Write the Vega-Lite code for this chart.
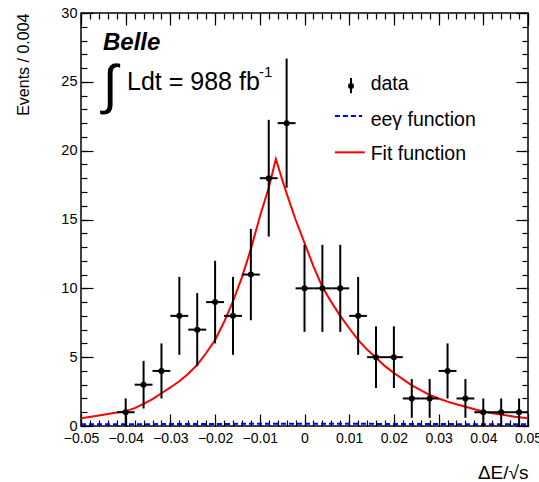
{
  "$schema": "https://vega.github.io/schema/vega-lite/v6.json",
  "width": 447,
  "height": 413,
  "autosize": {"type": "none"},
  "padding": {"left": 81, "top": 13, "right": 11, "bottom": 56},
  "background": "white",
  "config": {
    "view": {"stroke": "black", "strokeWidth": 1.5},
    "font": "Liberation Sans",
    "axis": {"domain": false, "grid": false, "labelFont": "Liberation Sans", "labelColor": "black", "tickColor": "black", "tickWidth": 1.2, "titleColor": "black", "titleFont": "Liberation Sans", "titleFontWeight": "normal"}
  },
  "datasets": {
    "hist": [
      {"x": -0.040, "n": 1, "lo": 0, "hi": 2, "xlo": -0.042, "xhi": -0.038},
      {"x": -0.036, "n": 3, "lo": 1.27, "hi": 4.73, "xlo": -0.038, "xhi": -0.034},
      {"x": -0.032, "n": 4, "lo": 2, "hi": 6, "xlo": -0.034, "xhi": -0.030},
      {"x": -0.028, "n": 8, "lo": 5.17, "hi": 10.83, "xlo": -0.030, "xhi": -0.026},
      {"x": -0.024, "n": 7, "lo": 4.35, "hi": 9.65, "xlo": -0.026, "xhi": -0.022},
      {"x": -0.020, "n": 9, "lo": 6, "hi": 12, "xlo": -0.022, "xhi": -0.018},
      {"x": -0.016, "n": 8, "lo": 5.17, "hi": 10.83, "xlo": -0.018, "xhi": -0.014},
      {"x": -0.012, "n": 11, "lo": 7.68, "hi": 14.32, "xlo": -0.014, "xhi": -0.010},
      {"x": -0.008, "n": 18, "lo": 13.76, "hi": 22.24, "xlo": -0.010, "xhi": -0.006},
      {"x": -0.004, "n": 22, "lo": 17.31, "hi": 26.69, "xlo": -0.006, "xhi": -0.002},
      {"x": 0.000, "n": 10, "lo": 6.84, "hi": 13.16, "xlo": -0.002, "xhi": 0.002},
      {"x": 0.004, "n": 10, "lo": 6.84, "hi": 13.16, "xlo": 0.002, "xhi": 0.006},
      {"x": 0.008, "n": 10, "lo": 6.84, "hi": 13.16, "xlo": 0.006, "xhi": 0.010},
      {"x": 0.012, "n": 8, "lo": 5.17, "hi": 10.83, "xlo": 0.010, "xhi": 0.014},
      {"x": 0.016, "n": 5, "lo": 2.76, "hi": 7.24, "xlo": 0.014, "xhi": 0.018},
      {"x": 0.020, "n": 5, "lo": 2.76, "hi": 7.24, "xlo": 0.018, "xhi": 0.022},
      {"x": 0.024, "n": 2, "lo": 0.59, "hi": 3.41, "xlo": 0.022, "xhi": 0.026},
      {"x": 0.028, "n": 2, "lo": 0.59, "hi": 3.41, "xlo": 0.026, "xhi": 0.030},
      {"x": 0.032, "n": 4, "lo": 2, "hi": 6, "xlo": 0.030, "xhi": 0.034},
      {"x": 0.036, "n": 2, "lo": 0.59, "hi": 3.41, "xlo": 0.034, "xhi": 0.038},
      {"x": 0.040, "n": 1, "lo": 0, "hi": 2, "xlo": 0.038, "xhi": 0.042},
      {"x": 0.044, "n": 1, "lo": 0, "hi": 2, "xlo": 0.042, "xhi": 0.046},
      {"x": 0.048, "n": 1, "lo": 0, "hi": 2, "xlo": 0.046, "xhi": 0.050}
    ],
    "fit": [
      {"x": -0.050, "y": 0.56}, {"x": -0.046, "y": 0.76}, {"x": -0.043, "y": 0.93},
      {"x": -0.040, "y": 1.08}, {"x": -0.038, "y": 1.3}, {"x": -0.036, "y": 1.6},
      {"x": -0.034, "y": 1.95}, {"x": -0.032, "y": 2.38}, {"x": -0.030, "y": 2.8},
      {"x": -0.028, "y": 3.25}, {"x": -0.026, "y": 3.8}, {"x": -0.024, "y": 4.45},
      {"x": -0.022, "y": 5.3}, {"x": -0.020, "y": 6.25}, {"x": -0.018, "y": 7.55},
      {"x": -0.016, "y": 9.05}, {"x": -0.014, "y": 10.8}, {"x": -0.012, "y": 12.85},
      {"x": -0.010, "y": 15.2}, {"x": -0.008, "y": 17.3}, {"x": -0.0064, "y": 19.4},
      {"x": -0.005, "y": 17.9}, {"x": -0.004, "y": 16.9}, {"x": -0.002, "y": 15.0},
      {"x": 0.000, "y": 13.3}, {"x": 0.002, "y": 11.6}, {"x": 0.004, "y": 10.1},
      {"x": 0.006, "y": 9.0}, {"x": 0.008, "y": 8.0}, {"x": 0.010, "y": 7.1},
      {"x": 0.012, "y": 6.25}, {"x": 0.014, "y": 5.55}, {"x": 0.016, "y": 4.95},
      {"x": 0.018, "y": 4.35}, {"x": 0.020, "y": 3.85}, {"x": 0.022, "y": 3.4},
      {"x": 0.024, "y": 2.95}, {"x": 0.026, "y": 2.6}, {"x": 0.028, "y": 2.25},
      {"x": 0.030, "y": 2.0}, {"x": 0.032, "y": 1.77}, {"x": 0.034, "y": 1.58},
      {"x": 0.036, "y": 1.4}, {"x": 0.038, "y": 1.22}, {"x": 0.040, "y": 1.05},
      {"x": 0.042, "y": 0.93}, {"x": 0.044, "y": 0.83}, {"x": 0.047, "y": 0.68},
      {"x": 0.050, "y": 0.56}
    ],
    "eeg": [
      {"x": -0.050, "y": 0.12}, {"x": -0.030, "y": 0.14}, {"x": -0.010, "y": 0.16},
      {"x": 0.000, "y": 0.16}, {"x": 0.010, "y": 0.16}, {"x": 0.030, "y": 0.14},
      {"x": 0.050, "y": 0.12}
    ],
    "belle": [{"x": -0.04508, "y": 27.3, "text": "Belle"}],
    "integral": [{"x": -0.0435, "y": 24.6, "text": "∫"}],
    "ldt": [{"x": -0.0397, "y": 24.41, "text": "Ldt = 988 fb"}],
    "sup": [{"x": -0.0102, "y": 25.35, "text": "-1"}],
    "legtext": [
      {"x": 0.0148, "y": 24.41, "text": "data"},
      {"x": 0.0148, "y": 21.79, "text": "eeγ function"},
      {"x": 0.0148, "y": 19.32, "text": "Fit function"}
    ],
    "legdata": [{"x": 0.0104, "y": 24.7, "lo": 24.17, "hi": 25.28}],
    "legblue": [{"x": 0.0068, "x2": 0.0129, "y": 22.52}],
    "legred": [{"x": 0.0068, "x2": 0.0135, "y": 19.88}]
  },
  "resolve": {"axis": {"x": "independent", "y": "independent"}},
  "layer": [
    {
      "data": {"name": "fit"},
      "mark": {"type": "line", "color": "#ff0000", "strokeWidth": 2, "clip": true},
      "encoding": {
        "x": {"field": "x", "type": "quantitative", "scale": {"domain": [-0.05, 0.05], "nice": false, "zero": false},
          "axis": {"orient": "bottom", "ticks": false, "labels": true, "format": ".2~f", "labelFontSize": 14, "labelPadding": 5,
            "values": [-0.05, -0.04, -0.03, -0.02, -0.01, 0, 0.01, 0.02, 0.03, 0.04, 0.05], "labelFlush": false, "labelOverlap": false,
            "title": "ΔE/√s", "titleFontSize": 19, "titleX": 447, "titleY": 52, "titleAlign": "right", "titleBaseline": "alphabetic", "titleAnchor": "end"}},
        "y": {"field": "y", "type": "quantitative", "scale": {"domain": [0, 30], "nice": false, "zero": false},
          "axis": {"orient": "left", "ticks": false, "labels": true, "labelFontSize": 14.5, "labelPadding": 4,
            "values": [0, 5, 10, 15, 20, 25, 30], "labelFlush": false, "labelOverlap": false,
            "title": "Events / 0.004", "titleFontSize": 16, "titleX": -53, "titleY": 0, "titleAngle": -90, "titleAlign": "right", "titleBaseline": "alphabetic", "titleAnchor": "end"}}
      }
    },
    {
      "data": {"name": "eeg"},
      "mark": {"type": "line", "color": "#0000ff", "strokeWidth": 2, "strokeDash": [5, 3]},
      "encoding": {
        "x": {"field": "x", "type": "quantitative", "scale": {"domain": [-0.05, 0.05], "nice": false, "zero": false},
          "axis": {"orient": "bottom", "labels": false, "title": null, "tickSize": -12, "values": [-0.05, -0.04, -0.03, -0.02, -0.01, 0, 0.01, 0.02, 0.03, 0.04, 0.05]}},
        "y": {"field": "y", "type": "quantitative", "scale": {"domain": [0, 30], "nice": false, "zero": false},
          "axis": {"orient": "left", "labels": false, "title": null, "tickSize": -12, "values": [0, 5, 10, 15, 20, 25, 30]}}
      }
    },
    {
      "data": {"name": "hist"},
      "mark": {"type": "rule", "color": "black", "strokeWidth": 2},
      "encoding": {
        "x": {"field": "x", "type": "quantitative", "scale": {"domain": [-0.05, 0.05], "nice": false, "zero": false},
          "axis": {"orient": "bottom", "labels": false, "title": null, "tickSize": -6,
            "values": [-0.05, -0.048, -0.046, -0.044, -0.042, -0.04, -0.038, -0.036, -0.034, -0.032, -0.03, -0.028, -0.026, -0.024, -0.022, -0.02, -0.018, -0.016, -0.014, -0.012, -0.01, -0.008, -0.006, -0.004, -0.002, 0, 0.002, 0.004, 0.006, 0.008, 0.01, 0.012, 0.014, 0.016, 0.018, 0.02, 0.022, 0.024, 0.026, 0.028, 0.03, 0.032, 0.034, 0.036, 0.038, 0.04, 0.042, 0.044, 0.046, 0.048, 0.05]}},
        "y": {"field": "lo", "type": "quantitative", "scale": {"domain": [0, 30], "nice": false, "zero": false},
          "axis": {"orient": "left", "labels": false, "title": null, "tickSize": -6,
            "values": [0, 1, 2, 3, 4, 5, 6, 7, 8, 9, 10, 11, 12, 13, 14, 15, 16, 17, 18, 19, 20, 21, 22, 23, 24, 25, 26, 27, 28, 29, 30]}},
        "y2": {"field": "hi"}
      }
    },
    {
      "data": {"name": "hist"},
      "mark": {"type": "rule", "color": "black", "strokeWidth": 2},
      "encoding": {
        "x": {"field": "xlo", "type": "quantitative", "scale": {"domain": [-0.05, 0.05], "nice": false, "zero": false},
          "axis": {"orient": "top", "labels": false, "title": null, "tickSize": -12, "values": [-0.05, -0.04, -0.03, -0.02, -0.01, 0, 0.01, 0.02, 0.03, 0.04, 0.05]}},
        "x2": {"field": "xhi"},
        "y": {"field": "n", "type": "quantitative", "scale": {"domain": [0, 30], "nice": false, "zero": false},
          "axis": {"orient": "right", "labels": false, "title": null, "tickSize": -12, "values": [0, 5, 10, 15, 20, 25, 30]}}
      }
    },
    {
      "data": {"name": "hist"},
      "mark": {"type": "point", "filled": true, "color": "black", "size": 36, "opacity": 1},
      "encoding": {
        "x": {"field": "x", "type": "quantitative", "scale": {"domain": [-0.05, 0.05], "nice": false, "zero": false},
          "axis": {"orient": "top", "labels": false, "title": null, "tickSize": -6,
            "values": [-0.05, -0.048, -0.046, -0.044, -0.042, -0.04, -0.038, -0.036, -0.034, -0.032, -0.03, -0.028, -0.026, -0.024, -0.022, -0.02, -0.018, -0.016, -0.014, -0.012, -0.01, -0.008, -0.006, -0.004, -0.002, 0, 0.002, 0.004, 0.006, 0.008, 0.01, 0.012, 0.014, 0.016, 0.018, 0.02, 0.022, 0.024, 0.026, 0.028, 0.03, 0.032, 0.034, 0.036, 0.038, 0.04, 0.042, 0.044, 0.046, 0.048, 0.05]}},
        "y": {"field": "n", "type": "quantitative", "scale": {"domain": [0, 30], "nice": false, "zero": false},
          "axis": {"orient": "right", "labels": false, "title": null, "tickSize": -6,
            "values": [0, 1, 2, 3, 4, 5, 6, 7, 8, 9, 10, 11, 12, 13, 14, 15, 16, 17, 18, 19, 20, 21, 22, 23, 24, 25, 26, 27, 28, 29, 30]}}
      }
    },
    {
      "data": {"name": "belle"},
      "mark": {"type": "text", "font": "Liberation Sans", "fontWeight": "bold", "fontStyle": "italic", "fontSize": 24, "align": "left", "baseline": "alphabetic", "color": "black"},
      "encoding": {
        "x": {"field": "x", "type": "quantitative", "axis": null},
        "y": {"field": "y", "type": "quantitative", "axis": null},
        "text": {"field": "text"}
      }
    },
    {
      "data": {"name": "integral"},
      "mark": {"type": "text", "font": "Liberation Sans", "fontSize": 54, "align": "center", "baseline": "middle", "color": "black"},
      "encoding": {
        "x": {"field": "x", "type": "quantitative", "axis": null},
        "y": {"field": "y", "type": "quantitative", "axis": null},
        "text": {"field": "text"}
      }
    },
    {
      "data": {"name": "ldt"},
      "mark": {"type": "text", "font": "Liberation Sans", "fontSize": 25, "align": "left", "baseline": "alphabetic", "color": "black"},
      "encoding": {
        "x": {"field": "x", "type": "quantitative", "axis": null},
        "y": {"field": "y", "type": "quantitative", "axis": null},
        "text": {"field": "text"}
      }
    },
    {
      "data": {"name": "sup"},
      "mark": {"type": "text", "font": "Liberation Sans", "fontSize": 15, "align": "left", "baseline": "alphabetic", "color": "black"},
      "encoding": {
        "x": {"field": "x", "type": "quantitative", "axis": null},
        "y": {"field": "y", "type": "quantitative", "axis": null},
        "text": {"field": "text"}
      }
    },
    {
      "data": {"name": "legtext"},
      "mark": {"type": "text", "font": "Liberation Sans", "fontSize": 19.5, "align": "left", "baseline": "alphabetic", "color": "black"},
      "encoding": {
        "x": {"field": "x", "type": "quantitative", "axis": null},
        "y": {"field": "y", "type": "quantitative", "axis": null},
        "text": {"field": "text"}
      }
    },
    {
      "data": {"name": "legdata"},
      "mark": {"type": "rule", "color": "black", "strokeWidth": 2},
      "encoding": {
        "x": {"field": "x", "type": "quantitative", "axis": null},
        "y": {"field": "lo", "type": "quantitative", "axis": null},
        "y2": {"field": "hi"}
      }
    },
    {
      "data": {"name": "legdata"},
      "mark": {"type": "point", "filled": true, "color": "black", "size": 36, "opacity": 1},
      "encoding": {
        "x": {"field": "x", "type": "quantitative", "axis": null},
        "y": {"field": "y", "type": "quantitative", "axis": null}
      }
    },
    {
      "data": {"name": "legblue"},
      "mark": {"type": "rule", "color": "#0000ff", "strokeWidth": 2, "strokeDash": [5, 3]},
      "encoding": {
        "x": {"field": "x", "type": "quantitative", "axis": null},
        "x2": {"field": "x2"},
        "y": {"field": "y", "type": "quantitative", "axis": null}
      }
    },
    {
      "data": {"name": "legred"},
      "mark": {"type": "rule", "color": "#ff0000", "strokeWidth": 2},
      "encoding": {
        "x": {"field": "x", "type": "quantitative", "axis": null},
        "x2": {"field": "x2"},
        "y": {"field": "y", "type": "quantitative", "axis": null}
      }
    }
  ]
}
